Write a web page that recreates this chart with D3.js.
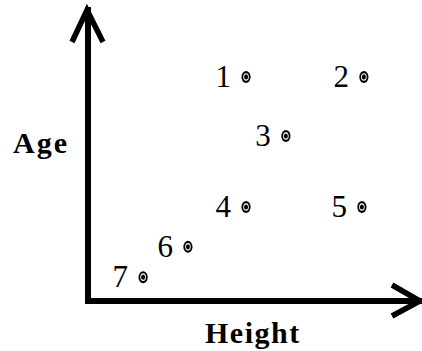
<!DOCTYPE html>
<html>
<head>
<meta charset="utf-8">
<script src="https://cdn.jsdelivr.net/npm/d3@7"></script>
<style>
    body { margin: 0; background: #fff; }
    svg { display: block; }
    .num { font-family: "Liberation Serif", "Times New Roman", serif; font-size: 31px; fill: #000; }
    .title { font-family: "Liberation Serif", "Times New Roman", serif; font-size: 30px; font-weight: bold; fill: #000; }
</style>
</head>
<body>
<div id="chart"></div>
<script>
// data
const labels = ["1", "2", "3", "4", "5", "6", "7"];
const heights = [4.76, 8.31, 5.96, 4.76, 8.25, 3.01, 1.66];
const ages = [7.7, 7.7, 5.67, 3.23, 3.23, 1.86, 0.82];

const width = 422;
const height = 351;

const svg = d3.select("#chart")
    .append("svg")
    .attr("width", width)
    .attr("height", height);

const x = d3.scaleLinear().domain([0, 10]).range([88, 420]);
const y = d3.scaleLinear().domain([0, 10]).range([301, 10]);

// axes drawn as arrows
svg.append("path")
    .attr("d", `M${x(0)},${y(10)}V${y(0)}H${x(10)}`)
    .attr("fill", "none")
    .attr("stroke", "#000")
    .attr("stroke-width", 6)
    .attr("stroke-linecap", "square");

svg.append("path")
    .attr("d", `M${x(0) - 16},${y(10) + 32}L${x(0) - 1},${y(10)}L${x(0) + 15},${y(10) + 32}`)
    .attr("fill", "none")
    .attr("stroke", "#000")
    .attr("stroke-width", 5.5);

svg.append("path")
    .attr("d", `M${x(10) - 28},${y(0) - 16}L${x(10)},${y(0)}L${x(10) - 28},${y(0) + 15}`)
    .attr("fill", "none")
    .attr("stroke", "#000")
    .attr("stroke-width", 5.5);

const data = labels.map((d, i) => ({ label: d, h: heights[i], a: ages[i] }));

const pts = svg.selectAll("g.pt")
    .data(data)
    .enter()
    .append("g")
    .attr("class", "pt")
    .attr("transform", d => `translate(${x(d.h)},${y(d.a)})`);

// ringed dot
pts.append("ellipse").attr("rx", 4.6).attr("ry", 6).attr("fill", "#000");
pts.append("ellipse").attr("rx", 2.8).attr("ry", 3.8).attr("fill", "#fff");
pts.append("ellipse").attr("rx", 2).attr("ry", 2.6).attr("fill", "#000");

pts.append("text")
    .attr("class", "num")
    .attr("x", -15)
    .attr("y", 10)
    .attr("text-anchor", "end")
    .text(d => d.label);

// axis titles
svg.append("text")
    .attr("class", "title")
    .attr("x", 13)
    .attr("y", 153)
    .attr("letter-spacing", 2)
    .text("Age");

svg.append("text")
    .attr("class", "title")
    .attr("x", 205)
    .attr("y", 343)
    .attr("letter-spacing", 1.5)
    .text("Height");
</script>
</body>
</html>
